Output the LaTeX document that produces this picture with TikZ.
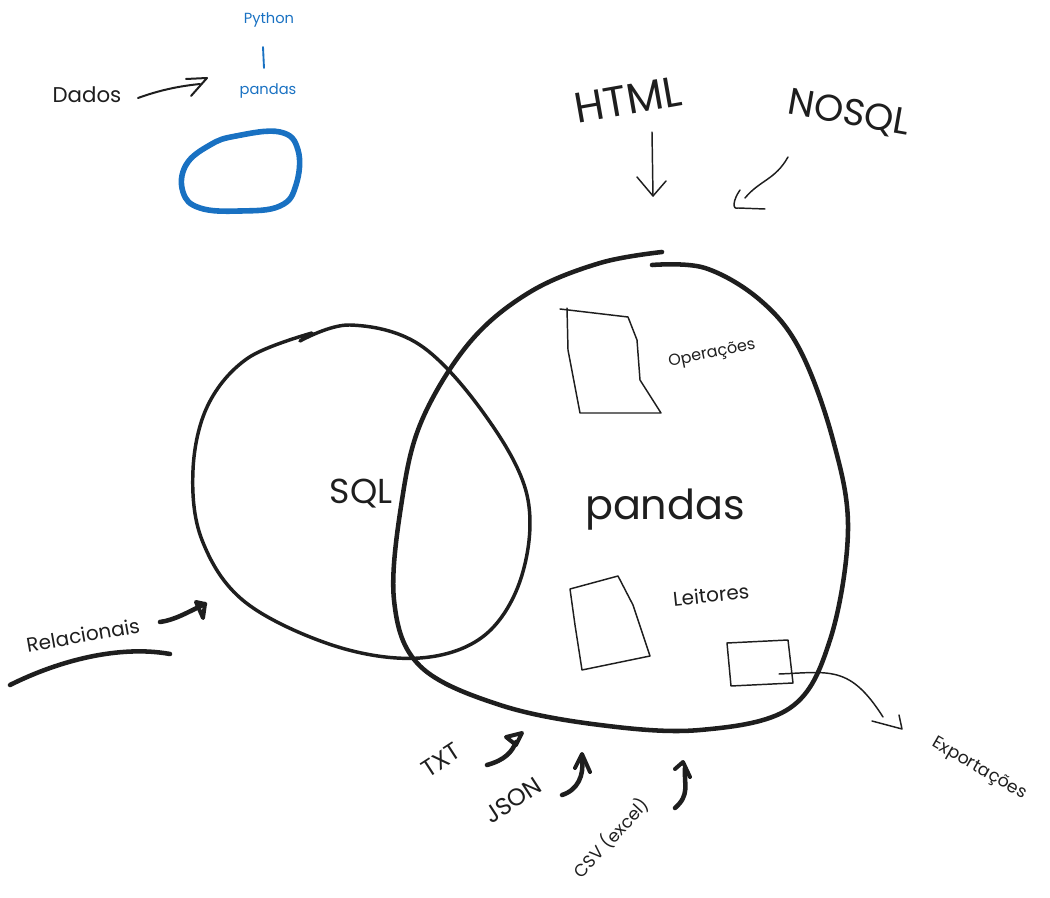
\documentclass[tikz,border=0pt]{standalone}
\usepackage{fontspec}
\setmainfont{Poppins}
\usetikzlibrary{calc}
\definecolor{inkblue}{HTML}{1971C2}
\definecolor{ink}{HTML}{1E1E1E}
\tikzset{
  thin ink/.style={draw=ink,line width=1.1pt,line cap=round,line join=round},
  mid ink/.style={draw=ink,line width=2pt,line cap=round,line join=round},
  bold ink/.style={draw=ink,line width=3.4pt,line cap=round,line join=round},
  lbl/.style={text=ink,inner sep=0pt},
}
\begin{document}
\begin{tikzpicture}[x=0.75pt,y=-0.75pt]
\useasboundingbox (0,0) rectangle (1050,898);
% blue blob
\draw[draw=inkblue,line width=4.2pt,line cap=round] plot[smooth cycle,tension=0.7] coordinates
 {(236,136) (280,132) (298,150) (296,185) (280,206) (240,211) (200,208) (183,192) (186,165) (210,145)};
\node[lbl,text=inkblue,font=\fontsize{11}{13}\selectfont] (python) at (269,20) {Python};
\node[lbl,text=inkblue,font=\fontsize{11}{13}\selectfont] (pandassm) at (268,91) {pandas};
\draw[draw=inkblue,line width=1.4pt,line cap=round] (263,47) -- (264,68);
% Dados
\node[lbl,font=\fontsize{16}{18}\selectfont] (dados) at (87,95) {Dados};
\coordinate (d1) at (138,98);
\coordinate (d2) at (207,78);
\draw[thin ink,line width=1.5pt] (d1) .. controls (160,90) and (180,86) .. (200,84);
\draw[thin ink,line width=1.5pt] (186,79) -- (d2) -- (191,96);
% SQL circle
\draw[mid ink,line width=2.6pt] plot[smooth,tension=0.6] coordinates
 {(300,341) (350,325) (420,345) (485,415) (527,495) (522,575) (485,635) (420,658) (335,646) (245,602) (202,540) (193,470) (208,405) (248,358) (312,333)};
\node[lbl,font=\fontsize{26}{30}\selectfont] (sql) at (361,494) {SQL};
% pandas blob
\draw[bold ink] plot[smooth,tension=0.6] coordinates
 {(652,265) (705,268) (760,300) (800,350) (833,440) (848,530) (830,640) (790,708) (700,730) (600,725) (500,705) (420,666) (394,600) (402,500) (422,420) (470,342) (530,292) (600,263) (662,252)};
\node[lbl,font=\fontsize{31}{36}\selectfont] (pandas) at (665,510) {pandas};
% Operacoes box
\draw[thin ink] (560,309) -- (628,317) -- (637,340) -- (640,380) -- (661,413) -- (580,413) -- (568,350) -- (567,308);
\node[lbl,rotate=12,font=\fontsize{12}{14}\selectfont] (oper) at (712,354) {Operações};
% Leitores box
\draw[thin ink] (570,589) -- (618,576) -- (633,605) -- (650,656) -- (582,670) -- (575,625) -- cycle;
\node[lbl,rotate=6,font=\fontsize{15}{17}\selectfont] (leit) at (711,595) {Leitores};
% small box
\draw[thin ink] (727,643) -- (788,640) -- (793,683) -- (731,686) -- cycle;
% Exportacoes
\node[lbl,rotate=-30,font=\fontsize{13}{15}\selectfont] (export) at (979,769) {Exportações};
\coordinate (e1) at (779,674);
\coordinate (e2) at (902,729);
\draw[thin ink] (e1) .. controls (830,672) and (850,665) .. (883,717);
\draw[thin ink] (872,721) -- (e2) -- (899,715);
% HTML
\node[lbl,rotate=10,font=\fontsize{32}{36}\selectfont] (html) at (628,100) {HTML};
\coordinate (h1) at (652,132);
\coordinate (h2) at (653,196);
\draw[thin ink] (h1) -- (h2);
\draw[thin ink] (637,177) -- (h2) -- (666,181);
% NOSQL
\node[lbl,rotate=-10,font=\fontsize{28}{32}\selectfont] (nosql) at (849,114) {NOSQL};
\coordinate (n1) at (788,157);
\coordinate (n2) at (738,208);
\draw[thin ink] (n1) .. controls (775,180) and (760,180) .. (745,198);
\draw[thin ink] (740,190) .. controls (733,200) and (732,210) .. (n2) -- (765,209);
% Relacionais
\node[lbl,rotate=10,font=\fontsize{15}{17}\selectfont] (rel) at (83,635) {Relacionais};
\draw[bold ink] (10,685) .. controls (60,660) and (120,645) .. (170,654);
\coordinate (r1) at (160,622);
\coordinate (r2) at (205,604);
\draw[bold ink] (r1) .. controls (175,620) and (188,612) .. (r2);
\draw[bold ink,line width=3pt] (196,602) -- (r2) -- (203,618) -- cycle;
% TXT
\node[lbl,rotate=33,font=\fontsize{18}{20}\selectfont] (txt) at (441,760) {TXT};
\coordinate (t1) at (487,765);
\coordinate (t2) at (522,733);
\draw[bold ink] (t1) .. controls (505,760) and (512,752) .. (516,742);
\draw[bold ink,line width=3pt] (506,737) -- (t2) -- (516,745) -- cycle;
% JSON
\node[lbl,rotate=33,font=\fontsize{18}{20}\selectfont] (json) at (513,800) {JSON};
\coordinate (j1) at (562,795);
\coordinate (j2) at (582,754);
\draw[bold ink] (j1) .. controls (578,790) and (584,775) .. (582,760);
\draw[bold ink,line width=3pt] (575,768) -- (j2) -- (590,772);
% CSV
\node[lbl,rotate=47,font=\fontsize{13}{15}\selectfont] (csv) at (611,838) {CSV (excel)};
\coordinate (c1) at (675,808);
\coordinate (c2) at (683,762);
\draw[bold ink] (c1) .. controls (690,795) and (684,785) .. (685,768);
\draw[bold ink,line width=3pt] (675,769) -- (c2) -- (690,777);
\end{tikzpicture}
\end{document}
